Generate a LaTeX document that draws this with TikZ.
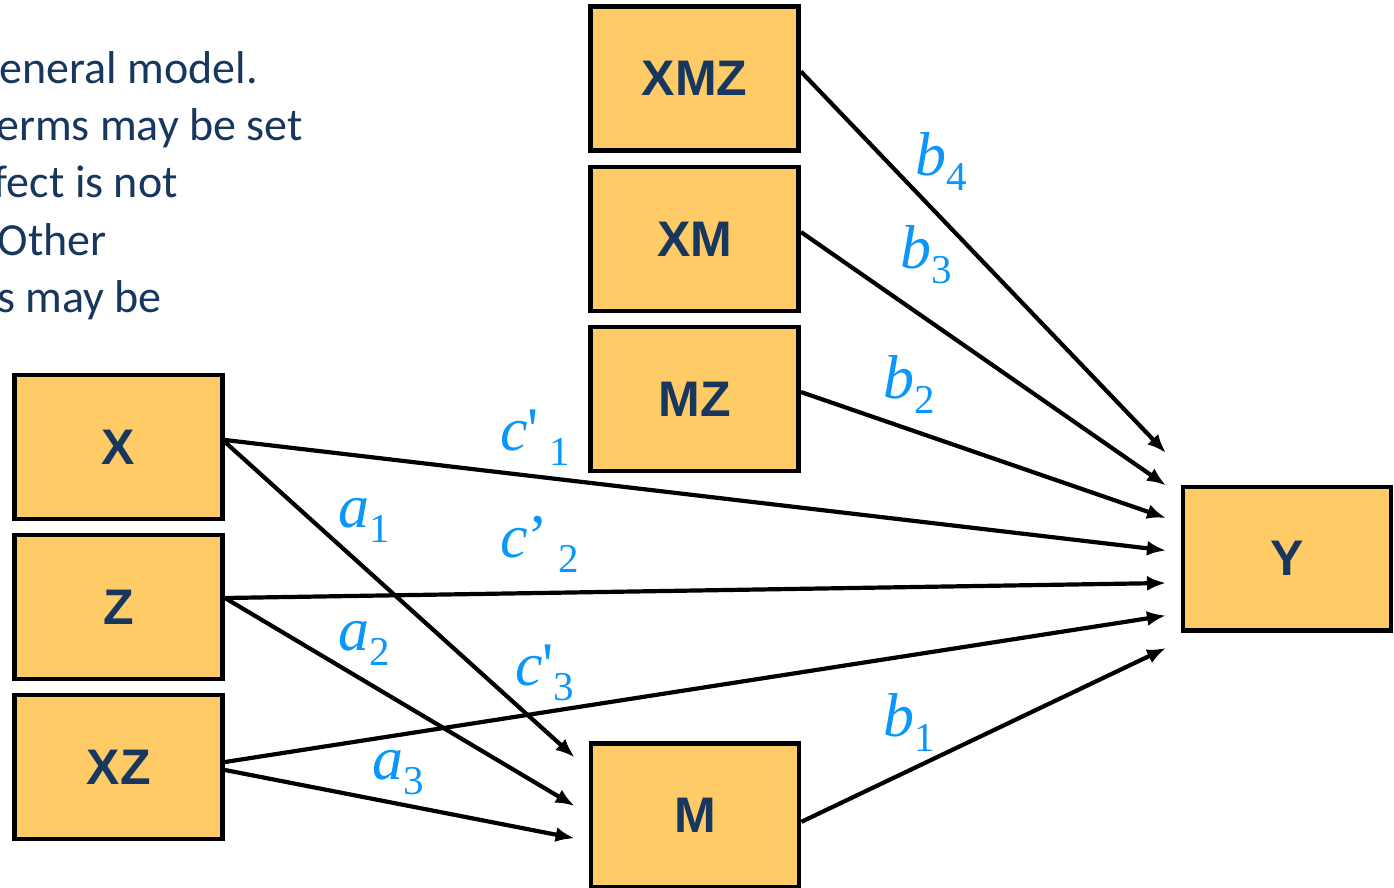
\documentclass[tikz,border=0pt]{standalone}
\usepackage{fontspec}
\setmainfont{Liberation Serif}
\newfontfamily\coeffont{Liberation Serif}
\newfontfamily\boxfont{Liberation Sans}
\newfontfamily\notefont{Carlito}
\usetikzlibrary{arrows.meta,calc}

\definecolor{boxfill}{RGB}{254,203,102}
\definecolor{navy}{RGB}{23,55,94}
\definecolor{coefblue}{RGB}{10,150,250}

% path coefficient: italic letter, optional prime, lowered subscript
\newcommand{\coeflab}[3]{\coeffont{\fontsize{62}{62}\selectfont\itshape #1}{\fontsize{62}{62}\selectfont\upshape #2}\raisebox{-15pt}{\fontsize{41}{41}\selectfont\upshape #3}}

\begin{document}
\begin{tikzpicture}[x=1pt,y=-1pt,
  var/.style={draw=black, line width=4.8pt, fill=boxfill,
    minimum width=208pt, minimum height=144pt, inner sep=0pt,
    font=\boxfont\bfseries\fontsize{50}{50}\selectfont, text=navy},
  link/.style={draw=black, line width=4.2pt, -{Latex[length=19pt,width=15pt]}},
  coef/.style={text=coefblue, inner sep=0pt, anchor=base west},
  note/.style={text=navy, font=\notefont\fontsize{46}{46}\selectfont,
    anchor=base east, inner sep=0pt}]

\useasboundingbox (0,0) rectangle (1394,887);
\begin{scope}
\clip (0,0) rectangle (1394,887);

% explanatory text (runs off the left edge)
\node[note] (n1) at (258,83) {eneral model.};
\node[note] (n2) at (303,140) {erms may be set};
\node[note] (n3) at (178,197) {fect is not};
\node[note] (n4) at (107,255) {Other};
\node[note] (n5) at (162,312) {s may be};

% variables
\node[var] (xmz) at (694.5,78.5) {XMZ};
\node[var] (xm)  at (694.5,239)  {XM};
\node[var] (mz)  at (694.5,399)  {MZ};
\node[var] (m)   at (695,815.3)  {M};
\node[var] (x)   at (118.6,447)  {X};
\node[var] (z)   at (118.6,607)  {Z};
\node[var] (xz)  at (118.6,767)  {XZ};
\node[var, minimum height=143.5pt] (y) at (1287,558.75) {Y};

% paths into Y
\draw[link] ($(xmz.east)+(0,-7)$) -- ($(y.west)+(-14.6,-105.75)$);
\draw[link] ($(xm.east)+(0,-7)$)  -- ($(y.west)+(-14.6,-73.25)$);
\draw[link] ($(mz.east)+(0,-7)$)  -- ($(y.west)+(-14.6,-40.75)$);
\draw[link] ($(x.east)+(0,-7)$)   -- ($(y.west)+(-14.6,-8.25)$);
\draw[link] ($(z.east)+(0,-9)$)   -- ($(y.west)+(-14.6,24.25)$);
\draw[link] ($(xz.east)+(0,-5)$)  -- ($(y.west)+(-14.6,56.75)$);
\draw[link] ($(m.east)+(0,6.5)$)  -- ($(y.west)+(-14.6,89.25)$);

% paths into M
\draw[link] ($(x.east)+(0,-5)$)  -- ($(m.west)+(-14,-58)$);
\draw[link] ($(z.east)+(0,-9)$)  -- ($(m.west)+(-14,-9.3)$);
\draw[link] ($(xz.east)+(0,3)$)  -- ($(m.west)+(-14,23)$);

% coefficients
\node[coef] (la1) at (338,527) {\coeflab{a}{}{1}};
\node[coef] (la2) at (338,650) {\coeflab{a}{}{2}};
\node[coef] (la3) at (372,779) {\coeflab{a}{}{3}};
\node[coef] (lb4) at (915,175) {\coeflab{b}{}{4}};
\node[coef] (lb3) at (900,268) {\coeflab{b}{}{3}};
\node[coef] (lb2) at (883,398) {\coeflab{b}{}{2}};
\node[coef] (lb1) at (883,736) {\coeflab{b}{}{1}};
\node[coef] (lc1) at (500,450) {\coeflab{c}{\textquotesingle\,}{1}};
\node[coef] (lc2) at (500,557) {\coeflab{c}{\textquoteright\,}{2}};
\node[coef] (lc3) at (515,685) {\coeflab{c}{\textquotesingle}{3}};
\end{scope}
\end{tikzpicture}
\end{document}
